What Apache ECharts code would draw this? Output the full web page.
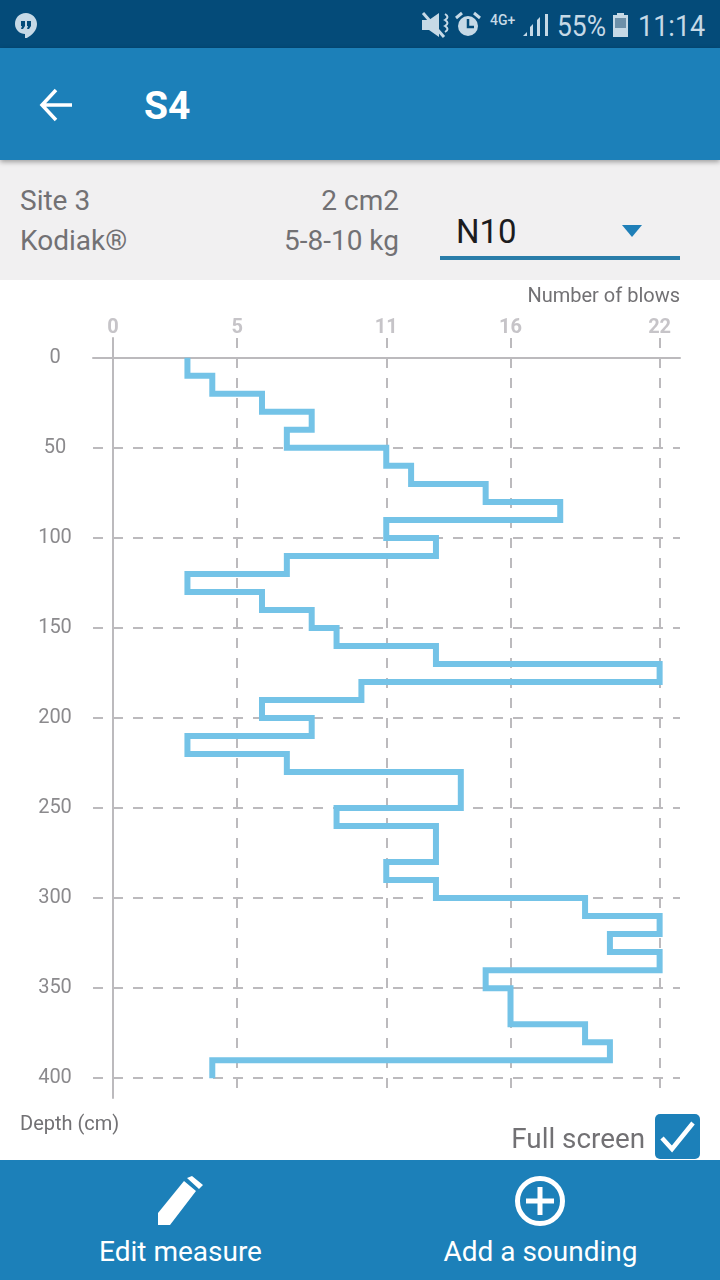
<!DOCTYPE html>
<html>
<head>
<meta charset="utf-8">
<style>
  html, body { margin: 0; padding: 0; background: #fff; }
  #app { position: relative; width: 720px; height: 1280px; overflow: hidden; font-family: Roboto, sans-serif; }
  #app div, #app svg { position: absolute; }
  .bar { left: 0; width: 720px; background: #1c80b9; }
  .txt { white-space: nowrap; line-height: 1; }
  #chart { left: 0; top: 280px; width: 720px; height: 880px; }
</style>
</head>
<body>
<div id="app">
  <div id="chart"></div>

  <div style="left:0;top:160px;width:720px;height:120px;background:#f1f0f1"></div>
  <div class="txt" style="left:20px;top:187px;font-size:28px;color:#727174">Site 3</div>
  <div class="txt" style="left:20px;top:227px;font-size:28px;color:#727174">Kodiak®</div>
  <div class="txt" style="right:321px;top:187px;font-size:28px;color:#727174">2 cm2</div>
  <div class="txt" style="right:321px;top:227px;font-size:28px;color:#727174">5-8-10 kg</div>
  <div class="txt" style="left:456px;top:215px;font-size:33px;color:#1c1c1e">N10</div>
  <svg style="left:620px;top:224px" width="24" height="14"><path d="M2 1H22L12 13Z" fill="#1f7fb8"/></svg>
  <div style="left:440px;top:256px;width:240px;height:4px;background:#2a7da9"></div>

  <div style="left:0;top:0;width:720px;height:48px;background:#044b79"></div>
  <div class="bar" style="top:48px;height:112px;box-shadow:0 2px 5px rgba(0,0,0,.35)"></div>
  <svg style="left:38px;top:86px" width="38" height="38"><path d="M18 4L4 19L18 34M4 19H34" fill="none" stroke="#fff" stroke-width="3.5"/></svg>
  <div class="txt" style="left:144px;top:87px;font-size:39px;font-weight:700;color:#fff">S4</div>

  <svg style="left:14px;top:12px" width="24" height="26"><path d="M12 1C5 1 1 6 1 12C1 18 6 22 11 22V27C17 24 23 19 23 12C23 6 18 1 12 1Z" fill="#c6d9e6"/><path d="M7 9h4v5l-2 3h-2l1-3h-1zM13 9h4v5l-2 3h-2l1-3h-1z" fill="#044b79"/></svg>
  <svg style="left:420px;top:10px" width="50" height="30">
    <path d="M2 10H9L19 3V27L9 20H2Z" fill="#c6d9e6"/><path d="M3 3L24 27" stroke="#c6d9e6" stroke-width="3"/>
    <path d="M25 4q5 3 0 6q5 3 0 6q5 3 0 6" fill="none" stroke="#c6d9e6" stroke-width="2"/>
  </svg>
  <svg style="left:454px;top:11px" width="28" height="28"><circle cx="14" cy="15" r="10" fill="#c6d9e6"/><path d="M14 8V16H20" fill="none" stroke="#044b79" stroke-width="2.5"/><path d="M2 7L8 2M26 7L20 2" stroke="#c6d9e6" stroke-width="3"/></svg>
  <div class="txt" style="left:490px;top:13px;font-size:14px;font-weight:500;color:#c6d9e6">4G+</div>
  <svg style="left:522px;top:12px" width="28" height="26"><path d="M1 24L5 20V24ZM8 24V15L11 12V24ZM15 24V8L18 5V24ZM23 24V2H26V24Z" fill="#c6d9e6"/></svg>
  <div class="txt" style="left:557px;top:11px;font-size:30px;color:#c6d9e6;transform:scaleX(.88);transform-origin:left">55%</div>
  <svg style="left:612px;top:12px" width="18" height="26"><path d="M5 3V1H12V3H16V25H1V3Z" fill="#c6d9e6"/><rect x="3" y="6" width="11" height="10" fill="#6d90a9"/></svg>
  <div class="txt" style="left:638px;top:11px;font-size:30px;color:#c6d9e6;transform:scaleX(.9);transform-origin:left">11:14</div>

  <div class="txt" style="right:75px;top:1125px;font-size:27.8px;color:#727174">Full screen</div>
  <svg style="left:655px;top:1114px" width="45" height="46"><rect width="45" height="45" rx="5" fill="#1c80b9"/><path d="M7 24L17 35L38 9" fill="none" stroke="#fff" stroke-width="4.5"/></svg>

  <div class="bar" style="top:1160px;height:120px"></div>
  <svg style="left:155px;top:1176px" width="50" height="50"><path d="M3 49V37L29 5L41 15L15 49ZM32 2L37 0L48 9L44 13Z" fill="#fff"/></svg>
  <svg style="left:514px;top:1175px" width="52" height="52"><circle cx="26" cy="26" r="22.5" fill="none" stroke="#fff" stroke-width="5"/><path d="M26 12V40M12 26H40" stroke="#fff" stroke-width="5"/></svg>
  <div class="txt" style="left:0;width:361px;text-align:center;top:1238px;font-size:28px;color:#fff">Edit measure</div>
  <div class="txt" style="left:360px;width:361px;text-align:center;top:1238px;font-size:28px;color:#fff">Add a sounding</div>
</div>

<script src="https://cdn.jsdelivr.net/npm/echarts@6/dist/echarts.min.js"></script>
<script>
// blows counted per 10 cm layer, from the surface down
const depthTop = [0, 10, 20, 30, 40, 50, 60, 70, 80, 90, 100, 110, 120, 130, 140, 150, 160, 170, 180, 190,
  200, 210, 220, 230, 240, 250, 260, 270, 280, 290, 300, 310, 320, 330, 340, 350, 360, 370, 380, 390];
const depthBottom = [10, 20, 30, 40, 50, 60, 70, 80, 90, 100, 110, 120, 130, 140, 150, 160, 170, 180, 190, 200,
  210, 220, 230, 240, 250, 260, 270, 280, 290, 300, 310, 320, 330, 340, 350, 360, 370, 380, 390, 400];
const blows = [3, 4, 6, 8, 7, 11, 12, 15, 18, 11, 13, 7, 3, 6, 8, 9, 13, 22, 10, 6,
  8, 3, 7, 14, 14, 9, 13, 13, 11, 13, 19, 22, 20, 22, 15, 16, 16, 19, 20, 4];
const blowTicks = [0, 5, 11, 16, 22];
const depthTicks = [0, 50, 100, 150, 200, 250, 300, 350, 400];

let points = [];
for (let i = 0; i < blows.length; i++) {
  points.push([blows[i], depthTop[i]]);
  points.push([blows[i], depthBottom[i]]);
}

const gridColor = '#bcbabd';
const chart = echarts.init(document.getElementById('chart'));
chart.setOption({
  animation: false,
  backgroundColor: '#fff',
  textStyle: { fontFamily: 'Roboto' },
  graphic: [
    { type: 'text', right: 40, top: 7, style: { text: 'Number of blows', font: '20px Roboto', fill: '#727174' } },
    { type: 'text', left: 20, top: 835, style: { text: 'Depth (cm)', font: '20px Roboto', fill: '#727174' } }
  ],
  grid: { left: 93, right: 40, top: 58, bottom: 62 },
  xAxis: {
    type: 'value',
    position: 'top',
    min: -0.8,
    max: 22.82,
    axisLine: { onZero: true, lineStyle: { color: gridColor, width: 2 } },
    axisTick: { show: false, customValues: blowTicks },
    axisLabel: {
      customValues: blowTicks,
      margin: 0,
      fontSize: 20,
      fontWeight: 'bold',
      color: '#c6c4c8',
      showMinLabel: true,
      showMaxLabel: true
    },
    splitLine: { show: true, lineStyle: { color: gridColor, width: 2, type: [10, 10] } }
  },
  yAxis: {
    type: 'value',
    inverse: true,
    min: -11,
    max: 411,
    axisLine: { onZero: true, lineStyle: { color: gridColor, width: 2 } },
    axisTick: { show: false, customValues: depthTicks },
    axisLabel: {
      customValues: depthTicks,
      margin: 38,
      align: 'center',
      padding: [2, 0, 0, 0],
      fontSize: 20,
      color: '#8b8a8d'
    },
    splitLine: { show: true, lineStyle: { color: gridColor, width: 2, type: [10, 10] } }
  },
  series: [{
    type: 'line',
    data: points,
    symbol: 'none',
    silent: true,
    lineStyle: { color: '#74c3e7', width: 6, join: 'miter', cap: 'butt' }
  }]
});
</script>
</body>
</html>
